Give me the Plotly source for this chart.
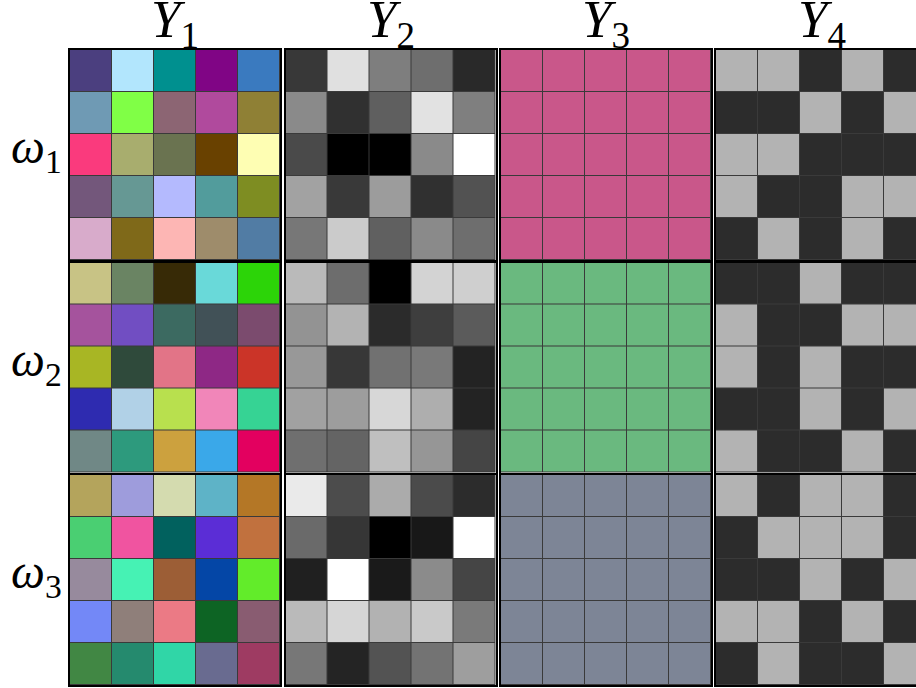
import numpy as np
import plotly.graph_objects as go

W, H = 916, 688

COL_TITLES = ["<i>Y</i><sub>1</sub>", "<i>Y</i><sub>2</sub>", "<i>Y</i><sub>3</sub>", "<i>Y</i><sub>4</sub>"]
ROW_LABELS = ["<i>ω</i><sub>1</sub>", "<i>ω</i><sub>2</sub>", "<i>ω</i><sub>3</sub>"]

# Y1: colour cells (hex), one 5x5 block per ω
Y1_W1 = [
    ["#4B3F7F", "#B2E6FD", "#00908F", "#800585", "#3A7ABF"],
    ["#6F9AB4", "#80FF46", "#8C6573", "#B04A9D", "#8F8035"],
    ["#FA3A7D", "#A8AD6E", "#6A7350", "#694100", "#FEFEB3"],
    ["#73577B", "#669894", "#B4BAFE", "#529C9C", "#7E8D22"],
    ["#D8ABCB", "#7F6919", "#FDB6B4", "#9E8C6B", "#517CA4"],
]
Y1_W2 = [
    ["#C8C385", "#6A8463", "#372A06", "#69D9D9", "#2CD408"],
    ["#A5539D", "#714EC2", "#3C6A61", "#415157", "#7B4B6E"],
    ["#A8B624", "#2F4A3B", "#E27487", "#8E2885", "#CB3428"],
    ["#2E2BB0", "#B1D1E7", "#B8E04E", "#F186B9", "#36D394"],
    ["#708886", "#2D9A7D", "#CCA13E", "#3AA8E9", "#E3005F"],
]
Y1_W3 = [
    ["#B4A45C", "#9E9CDC", "#D4DBAF", "#5EB3C7", "#B47726"],
    ["#4ACF72", "#F054A0", "#01615E", "#5B2DD6", "#C1713E"],
    ["#978A9D", "#46F2B4", "#9C5E36", "#0446A6", "#62EC2A"],
    ["#7388F7", "#8F7F7A", "#EB7A85", "#0D6424", "#895C71"],
    ["#418744", "#258A6E", "#30D6A7", "#696B90", "#9E3B62"],
]

# Y2: grey intensities 0-255
Y2_W1 = [
    [56, 224, 126, 110, 41],
    [138, 48, 95, 226, 127],
    [74, 0, 0, 138, 255],
    [162, 57, 156, 48, 82],
    [119, 203, 96, 138, 110],
]
Y2_W2 = [
    [186, 109, 0, 211, 207],
    [147, 179, 43, 62, 91],
    [152, 55, 113, 121, 35],
    [161, 157, 215, 174, 35],
    [111, 100, 191, 150, 69],
]
Y2_W3 = [
    [234, 76, 171, 75, 44],
    [106, 54, 0, 24, 255],
    [32, 255, 26, 139, 69],
    [186, 214, 178, 201, 122],
    [119, 36, 83, 115, 158],
]

# Y3: one colour per ω
Y3_COLORS = ["#C9578A", "#6AB97F", "#7D8596"]

# Y4: binary cells (1 = light, 0 = dark)
Y4_W1 = [
    [1, 1, 0, 1, 0],
    [0, 0, 1, 0, 1],
    [1, 1, 0, 0, 0],
    [1, 0, 0, 1, 1],
    [0, 1, 0, 1, 0],
]
Y4_W2 = [
    [0, 0, 1, 0, 0],
    [1, 0, 0, 1, 1],
    [1, 0, 1, 0, 0],
    [0, 0, 1, 0, 1],
    [1, 0, 0, 1, 0],
]
Y4_W3 = [
    [1, 0, 1, 1, 0],
    [0, 1, 1, 1, 0],
    [0, 0, 1, 0, 1],
    [1, 1, 0, 1, 0],
    [0, 1, 0, 0, 1],
]
Y4_DARK, Y4_LIGHT = "#2C2C2C", "#B3B3B3"

Y1 = [Y1_W1, Y1_W2, Y1_W3]
Y2 = [Y2_W1, Y2_W2, Y2_W3]
Y4 = [Y4_W1, Y4_W2, Y4_W3]

# layout in pixels
COL_X = [(70, 280), (285.5, 495.5), (501, 711), (716, 916)]
ROW_Y = [(50, 260), (262.5, 472.5), (475, 685)]

fig = go.Figure()
common = dict(showscale=False, xgap=1, ygap=1, hoverinfo="skip")

for r in range(3):
    for c in range(4):
        k = r * 4 + c + 1
        xa, ya = f"x{k}", f"y{k}"
        if c == 0:
            flat = [col for row in Y1[r] for col in row]
            n = len(flat)
            z = np.arange(n).reshape(5, 5)
            cs = [[i / (n - 1), flat[i]] for i in range(n)]
            tr = go.Heatmap(z=z, colorscale=cs, zmin=0, zmax=n - 1, **common)
        elif c == 1:
            tr = go.Heatmap(z=Y2[r], colorscale=[[0, "#000000"], [1, "#FFFFFF"]],
                            zmin=0, zmax=255, **common)
        elif c == 2:
            col = Y3_COLORS[r]
            tr = go.Heatmap(z=np.zeros((5, 5)), colorscale=[[0, col], [1, col]],
                            zmin=0, zmax=1, **common)
        else:
            tr = go.Heatmap(z=Y4[r], colorscale=[[0, Y4_DARK], [1, Y4_LIGHT]],
                            zmin=0, zmax=1, **common)
        tr.update(xaxis=xa, yaxis=ya)
        fig.add_trace(tr)

        x0, x1 = COL_X[c]
        y0, y1 = ROW_Y[r]
        ax_common = dict(showticklabels=False, showgrid=False, zeroline=False,
                         ticks="", showline=True, linecolor="#000000",
                         linewidth=1.5, fixedrange=True)
        xr = [-0.5, 4.25] if c == 3 else [-0.5, 4.5]
        fig.layout[f"xaxis{k}"] = dict(domain=[x0 / W, x1 / W], anchor=ya,
                                       range=xr, mirror=True, **ax_common)
        fig.layout[f"yaxis{k}"] = dict(domain=[1 - y1 / H, 1 - y0 / H], anchor=xa,
                                       range=[4.5, -0.5], mirror=(c != 3), **ax_common)

title_font = dict(family="Liberation Serif, DejaVu Serif, serif", size=53, color="#000000")
row_font = dict(family="Liberation Serif, DejaVu Serif, serif", size=48, color="#000000")
for c, t in enumerate(COL_TITLES):
    x0, x1 = COL_X[c]
    if c == 3:
        x1 = x0 + 211
    fig.add_annotation(text=t, x=(x0 + x1) / 2 / W, y=1 - 58 / H, xref="paper", yref="paper",
                       xanchor="center", yanchor="bottom", showarrow=False, font=title_font)
for r, t in enumerate(ROW_LABELS):
    y0, y1 = ROW_Y[r]
    fig.add_annotation(text=t, x=36 / W, y=1 - ((y0 + y1) / 2 - 5) / H, xref="paper", yref="paper",
                       xanchor="center", yanchor="middle", showarrow=False, font=row_font)

fig.update_layout(width=W, height=H, margin=dict(l=0, r=0, t=0, b=0),
                  paper_bgcolor="#FFFFFF", plot_bgcolor="#3A3A3A", showlegend=False)

fig.write_html("out.html", config={"displayModeBar": False},
               post_script="document.body.style.margin='0';document.body.style.overflow='hidden';")
